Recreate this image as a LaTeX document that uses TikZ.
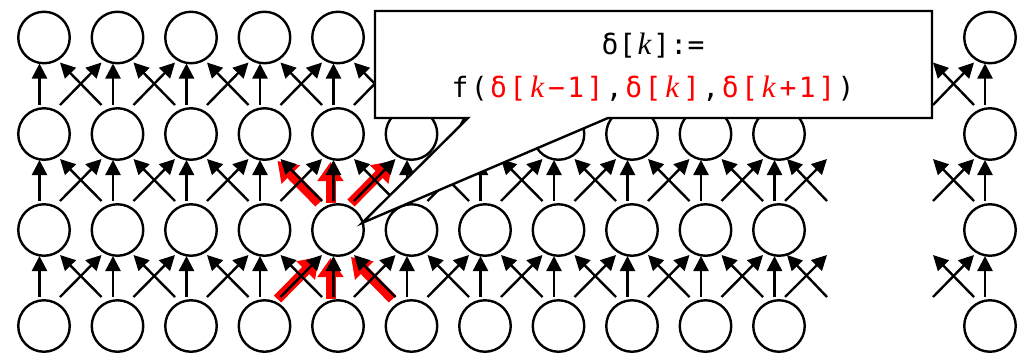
\documentclass[tikz,border=0pt]{standalone}
\usepackage{fontspec}
\setmonofont{DejaVu Sans Mono}
\newfontfamily\kfont{Liberation Serif}
\usetikzlibrary{arrows.meta,calc}
\newcommand\ca[1]{\makebox[17.2pt][c]{#1}}
\newcommand\cb[1]{\makebox[19.3pt][c]{#1}}
\newcommand\rb[1]{\cb{\textcolor{red}{#1}}}
\newcommand\kk{{\kfont\itshape\fontsize{31}{31}\selectfont k}}
\begin{document}
\begin{tikzpicture}[x=1pt,y=-1pt,
  cell/.style={circle,draw,line width=2.4pt,minimum size=51.5pt,inner sep=0pt},
  arr/.style={line width=2.4pt,-{Triangle[length=15pt,width=15pt]}},
  hl/.style={line width=10pt,red,-{Triangle[length=19pt,width=25pt]},transform canvas={xshift=-3pt,yshift=-2pt}},
  callout/.style={draw,line width=2.4pt,fill=white,line join=miter},
  txt/.style={anchor=base,inner sep=0pt,font=\ttfamily\fontsize{28}{28}\selectfont}
]
\useasboundingbox (0,0) rectangle (1025,354);
% nodes
\foreach \r/\y in {1/37.5,2/134,3/230,4/326} {
  \foreach \i in {0,...,10} {
    \node[cell] (n\i-\r) at ({44+73.5*\i},\y) {};
  }
  \node[cell] (m-\r) at (990,\y) {};
}
% highlighted arrows (red underlay)
\draw[hl] ([xshift=16pt,yshift=29pt]n3-4.center) -- ([xshift=-16pt,yshift=-25pt]n4-3.center);
\draw[hl] ([xshift=-4.5pt,yshift=29pt]n4-4.center) -- ([xshift=-4.5pt,yshift=-26pt]n4-3.center);
\draw[hl] ([xshift=-16pt,yshift=29pt]n5-4.center) -- ([xshift=16pt,yshift=-25pt]n4-3.center);
\draw[hl] ([xshift=-16pt,yshift=29pt]n4-3.center) -- ([xshift=16pt,yshift=-25pt]n3-2.center);
\draw[hl] ([xshift=-4.5pt,yshift=29pt]n4-3.center) -- ([xshift=-4.5pt,yshift=-26pt]n4-2.center);
\draw[hl] ([xshift=16pt,yshift=29pt]n4-3.center) -- ([xshift=-16pt,yshift=-25pt]n5-2.center);
% arrows
\foreach \r in {2,3,4} {
  \pgfmathtruncatemacro\u{\r-1}
  \foreach \i in {0,...,10} {
    \draw[arr] ([xshift=-4.5pt,yshift=29pt]n\i-\r.center) -- ([xshift=-4.5pt,yshift=-26pt]n\i-\u.center);
  }
  \foreach \i in {0,...,9} {
    \pgfmathtruncatemacro\j{\i+1}
    \draw[arr] ([xshift=16pt,yshift=29pt]n\i-\r.center) -- ([xshift=-16pt,yshift=-25pt]n\j-\u.center);
    \draw[arr] ([xshift=-16pt,yshift=29pt]n\j-\r.center) -- ([xshift=16pt,yshift=-25pt]n\i-\u.center);
  }
  % partial arrows at the right of the main block
  \draw[arr] ([xshift=6pt,yshift=29pt]n10-\r.center) -- ([xshift=48pt,yshift=-25pt]n10-\u.center);
  \draw[arr] ([xshift=48pt,yshift=29pt]n10-\r.center) -- ([xshift=8pt,yshift=-25pt]n10-\u.center);
  % right column
  \draw[arr] ([xshift=-5pt,yshift=29pt]m-\r.center) -- ([xshift=-5pt,yshift=-26pt]m-\u.center);
  \draw[arr] ([xshift=-57pt,yshift=29pt]m-\r.center) -- ([xshift=-16pt,yshift=-25pt]m-\u.center);
  \draw[arr] ([xshift=-16pt,yshift=29pt]m-\r.center) -- ([xshift=-57pt,yshift=-25pt]m-\u.center);
}
% callout
\draw[callout] (375,11) -- (932,11) -- (932,118) -- (608,118) -- (362,223) -- (468,118) -- (375,118) -- cycle;
\node[txt] (t1) at (653,54) {\ca{δ}\ca{[}\ca{\kk}\ca{]}\ca{:}\ca{=}};
\node[txt] (t2) at (653,97) {\cb{f}\cb{(}\rb{δ}\rb{[}\rb{\kk}\rb{−}\rb{1}\rb{]}\cb{,}\rb{δ}\rb{[}\rb{\kk}\rb{]}\cb{,}\rb{δ}\rb{[}\rb{\kk}\rb{+}\rb{1}\rb{]}\cb{)}};
\end{tikzpicture}
\end{document}
